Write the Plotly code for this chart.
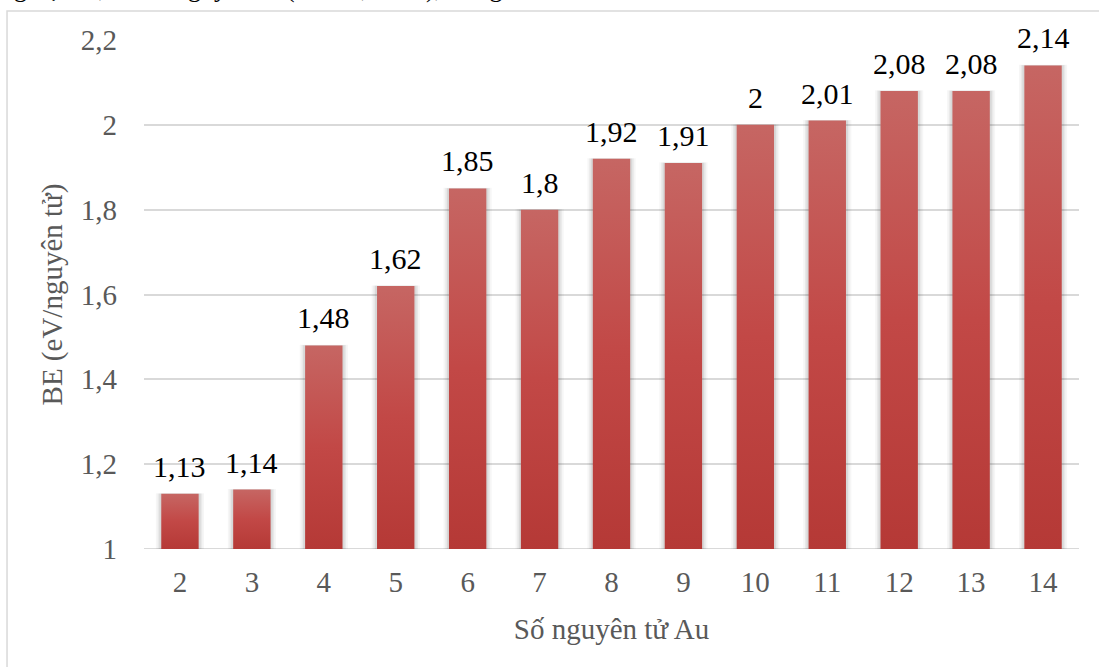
import plotly.graph_objects as go

# Binding energy of Au clusters by number of atoms
atoms = ["2", "3", "4", "5", "6", "7", "8", "9", "10", "11", "12", "13", "14"]
be_values = [1.13, 1.14, 1.48, 1.62, 1.85, 1.8, 1.92, 1.91, 2.0, 2.01, 2.08, 2.08, 2.14]

y_ticks = [1.0, 1.2, 1.4, 1.6, 1.8, 2.0, 2.2]


def vn_num(v):
    return f"{v:g}".replace(".", ",")


SERIF = "Liberation Serif"
BASE = 1.0
HALF = 0.26  # half bar width in category units

fig = go.Figure()

# soft shadow behind each bar
for dx, alpha in [(0.075, 0.035), (0.05, 0.05), (0.028, 0.07)]:
    for i, v in enumerate(be_values):
        fig.add_trace(go.Scatter(
            x=[i - HALF - dx, i - HALF - dx, i + HALF + dx, i + HALF + dx, i - HALF - dx],
            y=[BASE, v + dx * 0.02, v + dx * 0.02, BASE, BASE],
            mode="lines", fill="toself", line=dict(width=0),
            fillcolor=f"rgba(0,0,0,{alpha})", hoverinfo="skip", showlegend=False,
        ))

# bars with vertical gradient
for i, v in enumerate(be_values):
    fig.add_trace(go.Scatter(
        x=[i - HALF, i - HALF, i + HALF, i + HALF, i - HALF],
        y=[BASE, v, v, BASE, BASE],
        mode="lines", fill="toself", line=dict(width=0),
        fillgradient=dict(type="vertical",
                          colorscale=[[0, "#b53936"], [0.5, "#c24846"], [1, "#c66663"]]),
        hoverinfo="skip", showlegend=False,
    ))

# value labels above the bars
value_labels = [
    dict(x=i, y=v, xref="x", yref="y", text=vn_num(v), showarrow=False,
         xanchor="center", yanchor="bottom", yshift=9,
         font=dict(family=SERIF, size=30, color="#000000"))
    for i, v in enumerate(be_values)
]

fig.update_layout(
    width=1099, height=667,
    margin=dict(l=144, r=20, t=40, b=118),
    paper_bgcolor="white", plot_bgcolor="white",
    font=dict(family=SERIF, color="#595959"),
    showlegend=False,
    xaxis=dict(
        range=[-0.5, len(atoms) - 0.5],
        tickvals=list(range(len(atoms))), ticktext=atoms,
        showgrid=False, zeroline=False, showline=False, ticks="",
        tickfont=dict(family=SERIF, size=29, color="#595959"),
        ticklabelstandoff=13,
        title=dict(text="Số nguyên tử Au", font=dict(family=SERIF, size=29, color="#595959"),
                   standoff=21),
    ),
    yaxis=dict(
        range=[1.0, 2.2],
        tickvals=y_ticks, ticktext=[vn_num(t) for t in y_ticks],
        showgrid=True, gridcolor="#d9d9d9", gridwidth=1.5,
        zeroline=False, showline=False, ticks="",
        tickfont=dict(family=SERIF, size=29, color="#595959"),
        ticklabelstandoff=26,
        title=dict(text="BE (eV/nguyên tử)", font=dict(family=SERIF, size=29, color="#595959"),
                   standoff=9),
    ),
    shapes=[
        # chart frame
        dict(type="rect", xref="paper", yref="paper",
             x0=-0.1465, x1=1.05, y0=-0.3, y1=1.0569,
             line=dict(color="#d9d9d9", width=1.5), fillcolor="rgba(0,0,0,0)", layer="below"),
        # baseline
        dict(type="line", xref="paper", yref="y", x0=0, x1=1, y0=BASE, y1=BASE,
             line=dict(color="#d9d9d9", width=2), layer="below"),
    ],
    annotations=[
        dict(text="nghiệm 1,13 eV/nguyên tử (Morse, 1986), trong",
             xref="paper", yref="paper", x=0.386, y=1.068,
             xanchor="right", yanchor="bottom", showarrow=False,
             font=dict(family=SERIF, size=26, color="#000000")),
    ] + value_labels,
)

fig.write_html("out.html")
